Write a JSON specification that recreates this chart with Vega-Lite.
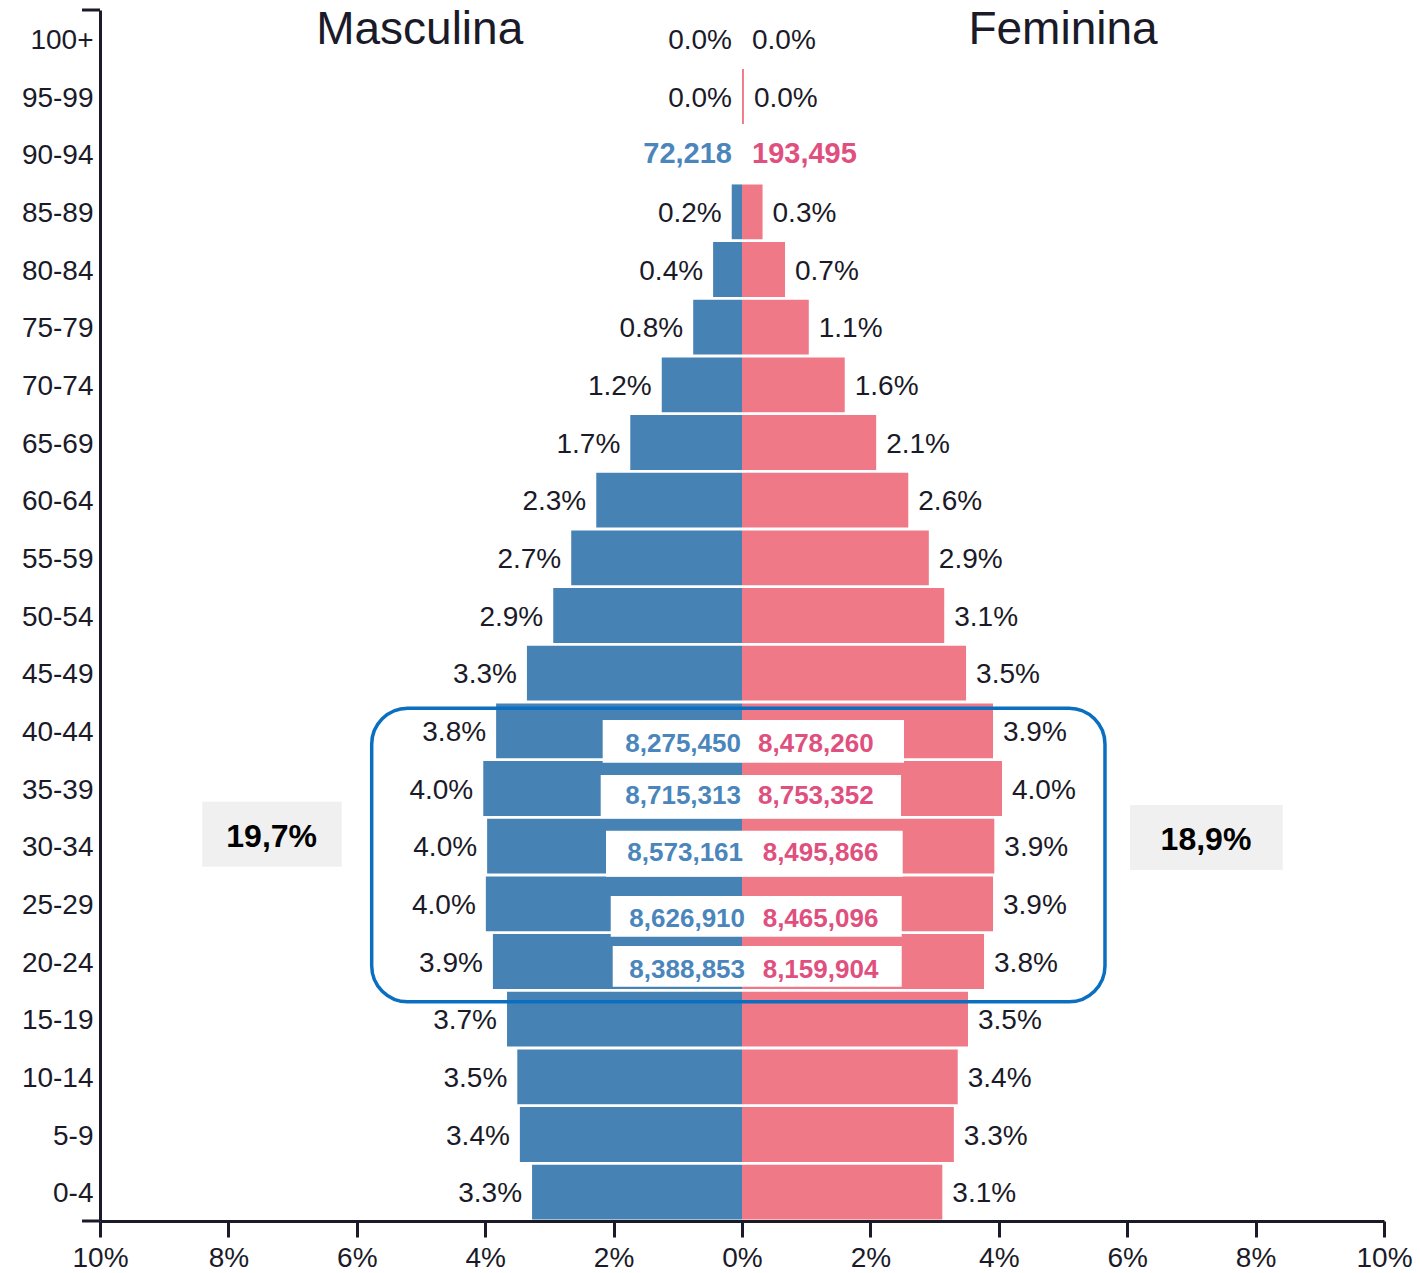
{
  "$schema": "https://vega.github.io/schema/vega-lite/v6.json",
  "width": 1284,
  "height": 1211,
  "autosize": {"type": "none"},
  "padding": {"left": 100, "top": 10, "right": 36, "bottom": 52},
  "background": "white",
  "config": {"view": {"stroke": null}, "font": "Liberation Sans"},
  "datasets": {
    "pyramid": [
      {"age": "0-4", "sex": "M", "pct": -3.27, "label": "3.3%"},
      {"age": "5-9", "sex": "M", "pct": -3.46, "label": "3.4%"},
      {"age": "10-14", "sex": "M", "pct": -3.5, "label": "3.5%"},
      {"age": "15-19", "sex": "M", "pct": -3.66, "label": "3.7%"},
      {"age": "20-24", "sex": "M", "pct": -3.88, "label": "3.9%"},
      {"age": "25-29", "sex": "M", "pct": -3.99, "label": "4.0%"},
      {"age": "30-34", "sex": "M", "pct": -3.97, "label": "4.0%"},
      {"age": "35-39", "sex": "M", "pct": -4.03, "label": "4.0%"},
      {"age": "40-44", "sex": "M", "pct": -3.83, "label": "3.8%"},
      {"age": "45-49", "sex": "M", "pct": -3.35, "label": "3.3%"},
      {"age": "50-54", "sex": "M", "pct": -2.94, "label": "2.9%"},
      {"age": "55-59", "sex": "M", "pct": -2.66, "label": "2.7%"},
      {"age": "60-64", "sex": "M", "pct": -2.27, "label": "2.3%"},
      {"age": "65-69", "sex": "M", "pct": -1.74, "label": "1.7%"},
      {"age": "70-74", "sex": "M", "pct": -1.25, "label": "1.2%"},
      {"age": "75-79", "sex": "M", "pct": -0.76, "label": "0.8%"},
      {"age": "80-84", "sex": "M", "pct": -0.45, "label": "0.4%"},
      {"age": "85-89", "sex": "M", "pct": -0.16, "label": "0.2%"},
      {"age": "90-94", "sex": "M", "pct": 0, "label": "72,218"},
      {"age": "95-99", "sex": "M", "pct": 0, "label": "0.0%"},
      {"age": "100+", "sex": "M", "pct": 0, "label": "0.0%"},
      {"age": "0-4", "sex": "F", "pct": 3.12, "label": "3.1%"},
      {"age": "5-9", "sex": "F", "pct": 3.3, "label": "3.3%"},
      {"age": "10-14", "sex": "F", "pct": 3.36, "label": "3.4%"},
      {"age": "15-19", "sex": "F", "pct": 3.52, "label": "3.5%"},
      {"age": "20-24", "sex": "F", "pct": 3.77, "label": "3.8%"},
      {"age": "25-29", "sex": "F", "pct": 3.91, "label": "3.9%"},
      {"age": "30-34", "sex": "F", "pct": 3.93, "label": "3.9%"},
      {"age": "35-39", "sex": "F", "pct": 4.05, "label": "4.0%"},
      {"age": "40-44", "sex": "F", "pct": 3.91, "label": "3.9%"},
      {"age": "45-49", "sex": "F", "pct": 3.49, "label": "3.5%"},
      {"age": "50-54", "sex": "F", "pct": 3.15, "label": "3.1%"},
      {"age": "55-59", "sex": "F", "pct": 2.91, "label": "2.9%"},
      {"age": "60-64", "sex": "F", "pct": 2.59, "label": "2.6%"},
      {"age": "65-69", "sex": "F", "pct": 2.09, "label": "2.1%"},
      {"age": "70-74", "sex": "F", "pct": 1.6, "label": "1.6%"},
      {"age": "75-79", "sex": "F", "pct": 1.04, "label": "1.1%"},
      {"age": "80-84", "sex": "F", "pct": 0.67, "label": "0.7%"},
      {"age": "85-89", "sex": "F", "pct": 0.32, "label": "0.3%"},
      {"age": "90-94", "sex": "F", "pct": 0, "label": "193,495"},
      {"age": "95-99", "sex": "F", "pct": 0.03, "label": "0.0%"},
      {"age": "100+", "sex": "F", "pct": 0, "label": "0.0%"}
    ],
    "whiteboxes": [
      {"x1": -2.17, "x2": 2.523, "y1": 8.688, "y2": 7.947},
      {"x1": -2.201, "x2": 2.477, "y1": 7.734, "y2": 6.983},
      {"x1": -2.118, "x2": 2.503, "y1": 6.768, "y2": 5.971},
      {"x1": -2.045, "x2": 2.488, "y1": 5.636, "y2": 4.93},
      {"x1": -2.014, "x2": 2.488, "y1": 4.769, "y2": 4.063}
    ],
    "counts": [
      {"male": "8,275,450", "female": "8,478,260", "y": 8.272, "mx": -0.016, "fx": 0.249},
      {"male": "8,715,313", "female": "8,753,352", "y": 7.37, "mx": -0.016, "fx": 0.249},
      {"male": "8,573,161", "female": "8,495,866", "y": 6.381, "mx": 0.016, "fx": 0.322},
      {"male": "8,626,910", "female": "8,465,096", "y": 5.232, "mx": 0.047, "fx": 0.322},
      {"male": "8,388,853", "female": "8,159,904", "y": 4.358, "mx": 0.047, "fx": 0.322}
    ],
    "frame": [
      {"x1": -5.768, "x2": 5.654, "y1": 8.891, "y2": 3.803}
    ],
    "notes": [
      {"text": "19,7%", "x1": -8.407, "x2": -6.235, "y1": 7.271, "y2": 6.144, "tx": -7.326, "ty": 6.664},
      {"text": "18,9%", "x1": 6.044, "x2": 8.422, "y1": 7.214, "y2": 6.087, "tx": 7.227, "ty": 6.607}
    ],
    "titles": [
      {"text": "Masculina", "x": -5.02, "y": 20.41},
      {"text": "Feminina", "x": 5.0, "y": 20.41}
    ],
    "outerticks": [
      {"x1": -10.28, "x2": -10, "y": 21},
      {"x1": -10.28, "x2": -10, "y": 0}
    ]
  },
  "layer": [
    {
      "data": {"name": "pyramid"},
      "encoding": {
        "y": {
          "field": "age",
          "type": "nominal",
          "scale": {
            "domain": ["100+", "95-99", "90-94", "85-89", "80-84", "75-79", "70-74", "65-69", "60-64", "55-59", "50-54", "45-49", "40-44", "35-39", "30-34", "25-29", "20-24", "15-19", "10-14", "5-9", "0-4"],
            "paddingInner": 0.05,
            "paddingOuter": 0.025
          },
          "axis": {
            "title": null,
            "ticks": false,
            "domain": true,
            "domainColor": "#1a1a28",
            "domainWidth": 3,
            "labelFont": "Liberation Sans",
            "labelFontSize": 28,
            "labelColor": "#1a1a28",
            "labelPadding": 7,
            "labelOffset": 2
          }
        }
      },
      "layer": [
        {
          "mark": {"type": "bar"},
          "encoding": {
            "x": {
              "field": "pct",
              "type": "quantitative",
              "scale": {"domain": [-10, 10], "nice": false},
              "axis": {
                "title": null,
                "values": [-10, -8, -6, -4, -2, 0, 2, 4, 6, 8, 10],
                "labelExpr": "abs(datum.value) + '%'",
                "grid": false,
                "domainColor": "#1a1a28",
                "domainWidth": 3,
                "tickColor": "#1a1a28",
                "tickWidth": 3,
                "tickSize": 16,
                "labelFont": "Liberation Sans",
                "labelFontSize": 28,
                "labelColor": "#1a1a28",
                "labelPadding": 7,
                "labelFlush": false
              }
            },
            "color": {
              "field": "sex",
              "type": "nominal",
              "scale": {"domain": ["M", "F"], "range": ["#4682B4", "#EF7986"]},
              "legend": null
            }
          }
        },
        {
          "transform": [{"filter": "datum.sex == 'M' && datum.age != '90-94'"}],
          "mark": {"type": "text", "align": "right", "baseline": "middle", "dx": -10, "dy": 2, "fontSize": 28, "font": "Liberation Sans", "color": "#1a1a28"},
          "encoding": {"x": {"field": "pct", "type": "quantitative"}, "text": {"field": "label"}}
        },
        {
          "transform": [{"filter": "datum.sex == 'F' && datum.age != '90-94'"}],
          "mark": {"type": "text", "align": "left", "baseline": "middle", "dx": 10, "dy": 2, "fontSize": 28, "font": "Liberation Sans", "color": "#1a1a28"},
          "encoding": {"x": {"field": "pct", "type": "quantitative"}, "text": {"field": "label"}}
        },
        {
          "transform": [{"filter": "datum.sex == 'M' && datum.age == '90-94'"}],
          "mark": {"type": "text", "align": "right", "baseline": "middle", "dx": -10, "dy": 0, "fontSize": 29, "fontWeight": "bold", "font": "Liberation Sans", "color": "#4A86BC"},
          "encoding": {"x": {"field": "pct", "type": "quantitative"}, "text": {"field": "label"}}
        },
        {
          "transform": [{"filter": "datum.sex == 'F' && datum.age == '90-94'"}],
          "mark": {"type": "text", "align": "left", "baseline": "middle", "dx": 10, "dy": 0, "fontSize": 29, "fontWeight": "bold", "font": "Liberation Sans", "color": "#E0507E"},
          "encoding": {"x": {"field": "pct", "type": "quantitative"}, "text": {"field": "label"}}
        }
      ]
    },
    {
      "layer": [
        {
          "data": {"name": "whiteboxes"},
          "mark": {"type": "rect", "fill": "white"},
          "encoding": {
            "x": {"field": "x1", "type": "quantitative"},
            "x2": {"field": "x2"},
            "y": {"field": "y1", "type": "quantitative", "scale": {"domain": [0, 21], "nice": false, "zero": false}, "axis": null},
            "y2": {"field": "y2"}
          }
        },
        {
          "data": {"name": "counts"},
          "mark": {"type": "text", "align": "right", "baseline": "middle", "fontSize": 26, "fontWeight": "bold", "font": "Liberation Sans", "color": "#4A86BC"},
          "encoding": {
            "x": {"field": "mx", "type": "quantitative"},
            "y": {"field": "y", "type": "quantitative", "scale": {"domain": [0, 21], "nice": false, "zero": false}, "axis": null},
            "text": {"field": "male"}
          }
        },
        {
          "data": {"name": "counts"},
          "mark": {"type": "text", "align": "left", "baseline": "middle", "fontSize": 26, "fontWeight": "bold", "font": "Liberation Sans", "color": "#E0507E"},
          "encoding": {
            "x": {"field": "fx", "type": "quantitative"},
            "y": {"field": "y", "type": "quantitative", "scale": {"domain": [0, 21], "nice": false, "zero": false}, "axis": null},
            "text": {"field": "female"}
          }
        },
        {
          "data": {"name": "frame"},
          "mark": {"type": "rect", "fill": "transparent", "stroke": "#0A6FC0", "strokeWidth": 3.5, "cornerRadius": 36},
          "encoding": {
            "x": {"field": "x1", "type": "quantitative"},
            "x2": {"field": "x2"},
            "y": {"field": "y1", "type": "quantitative", "scale": {"domain": [0, 21], "nice": false, "zero": false}, "axis": null},
            "y2": {"field": "y2"}
          }
        },
        {
          "data": {"name": "notes"},
          "mark": {"type": "rect", "fill": "#F0F0F0"},
          "encoding": {
            "x": {"field": "x1", "type": "quantitative"},
            "x2": {"field": "x2"},
            "y": {"field": "y1", "type": "quantitative", "scale": {"domain": [0, 21], "nice": false, "zero": false}, "axis": null},
            "y2": {"field": "y2"}
          }
        },
        {
          "data": {"name": "notes"},
          "mark": {"type": "text", "align": "center", "baseline": "middle", "fontSize": 32, "fontWeight": "bold", "font": "Liberation Sans", "color": "#000000"},
          "encoding": {
            "x": {"field": "tx", "type": "quantitative"},
            "y": {"field": "ty", "type": "quantitative", "scale": {"domain": [0, 21], "nice": false, "zero": false}, "axis": null},
            "text": {"field": "text"}
          }
        },
        {
          "data": {"name": "titles"},
          "mark": {"type": "text", "align": "center", "baseline": "alphabetic", "fontSize": 46, "font": "Liberation Sans", "color": "#1a1a28"},
          "encoding": {
            "x": {"field": "x", "type": "quantitative"},
            "y": {"field": "y", "type": "quantitative", "scale": {"domain": [0, 21], "nice": false, "zero": false}, "axis": null},
            "text": {"field": "text"}
          }
        },
        {
          "data": {"name": "outerticks"},
          "mark": {"type": "rule", "color": "#1a1a28", "strokeWidth": 3},
          "encoding": {
            "x": {"field": "x1", "type": "quantitative"},
            "x2": {"field": "x2"},
            "y": {"field": "y", "type": "quantitative", "scale": {"domain": [0, 21], "nice": false, "zero": false}, "axis": null}
          }
        }
      ]
    }
  ],
  "resolve": {"scale": {"y": "independent"}, "axis": {"y": "independent"}}
}
